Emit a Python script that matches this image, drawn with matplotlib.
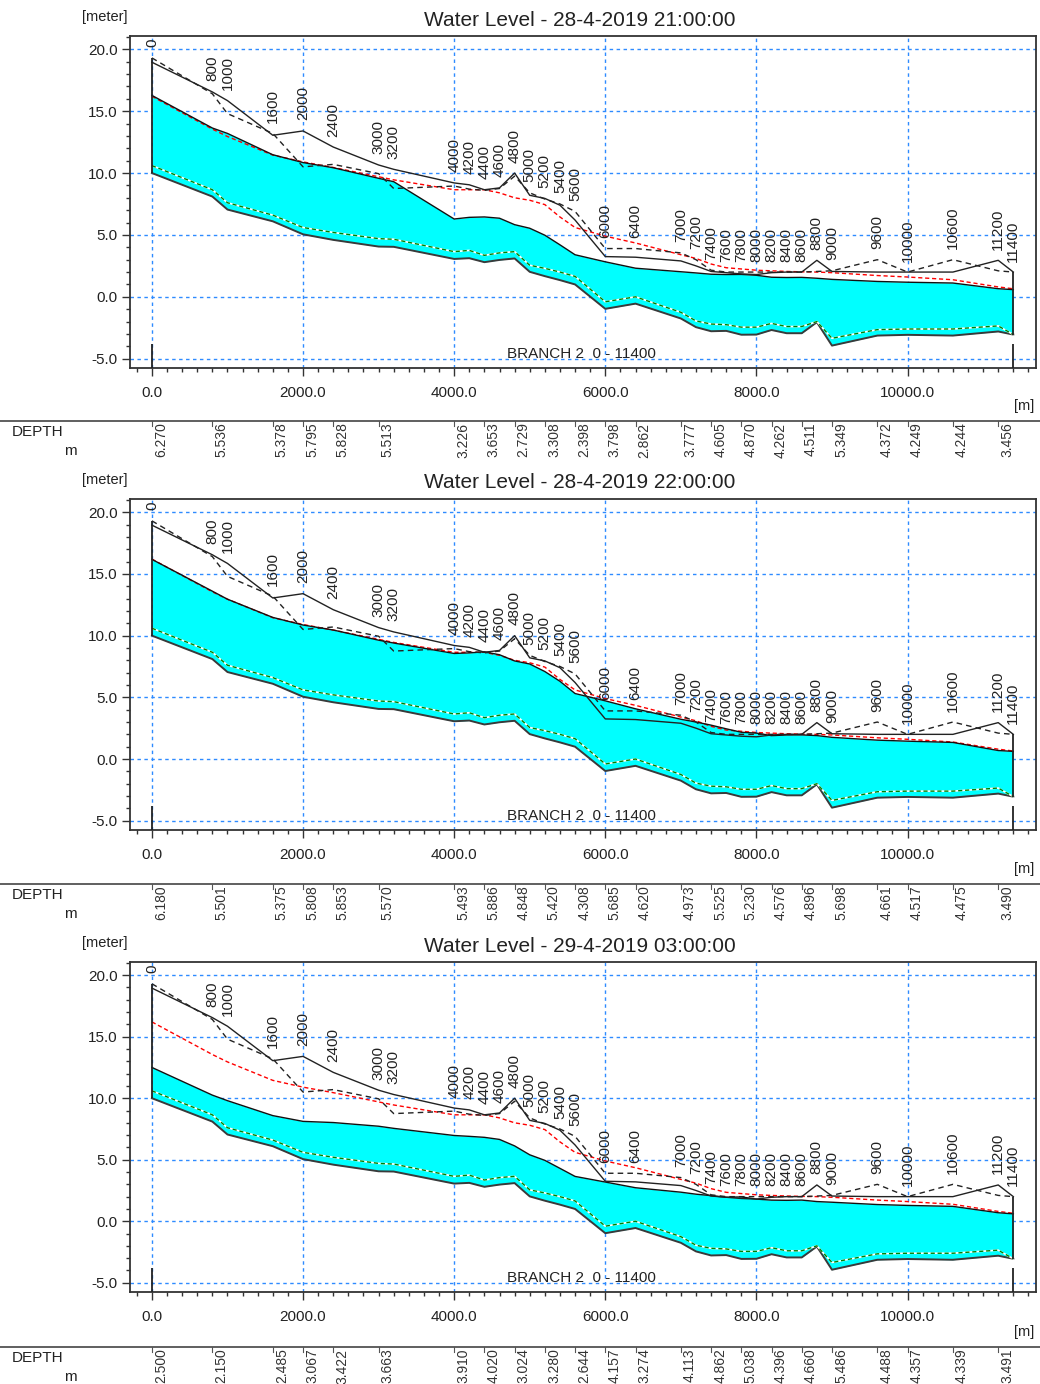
import numpy as np
import matplotlib
matplotlib.use("Agg")
import matplotlib.pyplot as plt
from matplotlib.lines import Line2D
from matplotlib import transforms
from matplotlib.ticker import MultipleLocator, FormatStrFormatter

plt.rcParams['font.family'] = ['Liberation Sans', 'DejaVu Sans']

# ---- Branch geometry (chainage in m, levels in m) ----
chainage = [0, 800, 1000, 1600, 2000, 2400, 3000, 3200, 4000, 4200, 4400, 4600,
            4800, 5000, 5200, 5400, 5600, 6000, 6400, 7000, 7200, 7400, 7600,
            7800, 8000, 8200, 8400, 8600, 8800, 9000, 9600, 10000, 10600,
            11200, 11400]

bed_level = [10.00, 8.10, 7.05, 6.10, 5.05, 4.60, 4.06, 4.04, 3.06, 3.12, 2.80,
             2.98, 3.10, 2.02, 1.67, 1.35, 1.00, -0.97, -0.55, -1.75, -2.45,
             -2.78, -2.75, -3.06, -3.05, -2.68, -2.94, -2.94, -2.05, -3.94,
             -3.13, -3.07, -3.13, -2.80, -3.05]

bed_level_2 = [10.60, 8.65, 7.60, 6.60, 5.60, 5.20, 4.70, 4.65, 3.65, 3.75, 3.35,
               3.55, 3.65, 2.55, 2.30, 2.00, 1.65, -0.40, 0.00, -1.25, -1.95,
               -2.20, -2.25, -2.45, -2.45, -2.15, -2.40, -2.40, -2.00, -3.35,
               -2.65, -2.60, -2.60, -2.35, -3.05]

left_bank = [18.95, 16.55, 15.85, 13.05, 13.40, 12.10, 10.65, 10.30, 9.20, 9.05,
             8.65, 8.80, 10.00, 8.20, 7.95, 7.40, 6.20, 3.25, 3.20, 2.90, 2.50,
             2.05, 1.95, 1.85, 1.80, 1.95, 2.00, 2.00, 2.95, 2.05, 2.00, 2.00,
             2.00, 2.95, 2.00]

right_bank = [19.30, 16.40, 14.80, 13.20, 10.50, 10.70, 9.95, 8.75, 8.95, 8.70,
              8.60, 8.75, 9.75, 8.40, 7.90, 7.50, 6.90, 3.90, 3.90, 3.55, 3.00,
              2.15, 2.00, 2.00, 2.00, 2.00, 2.00, 2.00, 2.05, 2.10, 3.00, 2.00,
              3.00, 2.10, 2.00]

max_water_level = [16.20, 13.55, 12.95, 11.45, 10.90, 10.45, 9.70, 9.45, 8.65,
                   8.65, 8.65, 8.40, 8.00, 7.80, 7.45, 6.45, 5.60, 4.90, 4.35,
                   3.40, 3.10, 2.65, 2.35, 2.25, 2.15, 2.10, 2.05, 2.02, 2.00,
                   1.95, 1.72, 1.60, 1.38, 0.80, 0.65]

# ---- Water levels at the three time steps ----
titles = ["Water Level - 28-4-2019 21:00:00",
          "Water Level - 28-4-2019 22:00:00",
          "Water Level - 29-4-2019 03:00:00"]

wl_2104 = [16.270, 13.636, 13.200, 11.478, 10.845, 10.428, 9.573, 9.300, 6.286,
           6.420, 6.453, 6.350, 5.829, 5.540, 4.978, 4.200, 3.398, 2.828, 2.312,
           2.027, 1.930, 1.825, 1.800, 1.810, 1.740, 1.582, 1.560, 1.571, 1.500,
           1.409, 1.242, 1.179, 1.114, 0.656, 0.580]

wl_2204 = [16.180, 13.601, 12.950, 11.475, 10.858, 10.453, 9.630, 9.400, 8.553,
           8.600, 8.686, 8.450, 7.948, 7.700, 7.090, 6.300, 5.308, 4.715, 4.070,
           3.223, 3.000, 2.745, 2.450, 2.170, 2.100, 1.896, 1.950, 1.956, 1.900,
           1.758, 1.531, 1.447, 1.345, 0.690, 0.620]

wl_0305 = [12.500, 10.250, 9.800, 8.585, 8.117, 8.022, 7.723, 7.550, 6.970,
           6.900, 6.820, 6.650, 6.124, 5.400, 4.950, 4.300, 3.644, 3.187, 2.724,
           2.363, 2.200, 2.082, 1.950, 1.978, 1.800, 1.716, 1.700, 1.720, 1.600,
           1.546, 1.358, 1.287, 1.209, 0.691, 0.600]

# h-points whose depth is printed in the table row
depth_chainages = [0, 800, 1600, 2000, 2400, 3000, 4000, 4400, 4800, 5200, 5600,
                   6000, 6400, 7000, 7400, 7800, 8200, 8600, 9000, 9600, 10000,
                   10600, 11200]

branch_name = "BRANCH 2"

# ---- Figure layout (pixels) ----
W, H = 1040, 1384
fig = plt.figure(figsize=(W / 100, H / 100), dpi=100)
fig.patch.set_facecolor("white")


def fy(px):
    return 1 - px / H


ax_left, ax_right = 130, 1036
panel_tops = [36, 499, 962]
panel_bottoms = [368, 830, 1292]

grid_blue = "#2E8BFF"
text_col = "#222222"
x = np.array(chainage, dtype=float)
bed = np.array(bed_level)

for p, (title, wl) in enumerate(zip(titles, [wl_2104, wl_2204, wl_0305])):
    top, bot = panel_tops[p], panel_bottoms[p]
    dy = top - panel_tops[0]
    ax = fig.add_axes([ax_left / W, fy(bot), (ax_right - ax_left) / W, (bot - top) / H])
    ax.set_xlim(-290, 11700)
    ax.set_ylim(-5.75, 21.07)

    ax.xaxis.set_major_locator(MultipleLocator(2000))
    ax.xaxis.set_minor_locator(MultipleLocator(200))
    ax.yaxis.set_major_locator(MultipleLocator(5))
    ax.yaxis.set_minor_locator(MultipleLocator(1))
    ax.xaxis.set_major_formatter(FormatStrFormatter("%.1f"))
    ax.yaxis.set_major_formatter(FormatStrFormatter("%.1f"))
    ax.tick_params(which="major", direction="out", length=6, width=1, colors="#333333",
                   labelsize=11, labelcolor=text_col)
    ax.tick_params(which="minor", direction="out", length=3, width=1, colors="#333333")
    ax.tick_params(axis="x", which="both", pad=7)
    ax.tick_params(axis="y", which="both", pad=3)
    for s in ax.spines.values():
        s.set_color("#333333")
        s.set_linewidth(1.3)
    ax.grid(True, which="major", color=grid_blue, linestyle=(0, (2.5, 2.5)), lw=1)
    ax.set_axisbelow(True)

    w = np.array(wl)
    # water body between bed and water surface
    ax.fill_between(x, bed, w, color="#00FFFF", lw=0, zorder=2)
    ax.plot(x, w, color="#111111", lw=1.0, zorder=4)
    ax.plot(x, bed, color="#3a3a3a", lw=1.4, zorder=4)
    ax.plot(x, bed_level_2, color="white", lw=1.2, zorder=4)
    ax.plot(x, bed_level_2, color="#008000", lw=1.0, linestyle=(0, (3, 2)), zorder=4)
    ax.plot(x, max_water_level, color="#FF0000", lw=1.0, linestyle=(0, (3, 2)), zorder=3)
    ax.plot(x, left_bank, color="#222222", lw=1.0, zorder=5)
    ax.plot(x, right_bank, color="#222222", lw=1.0, linestyle=(0, (4, 3)), zorder=5)

    # branch end walls and end markers
    ends = [0, -1]
    for i in ends:
        ax.vlines(x[i], bed[i], max(left_bank[i], right_bank[i]), color="#222222", lw=1.3, zorder=5)
        ax.vlines(x[i], -5.75, -3.8, color="#222222", lw=1.3, zorder=5, clip_on=False)

    # chainage labels above the banks
    for c, lb, rb in zip(chainage, left_bank, right_bank):
        ax.text(c, max(lb, rb) + 0.85, str(c), rotation=90, ha="center", va="bottom",
                fontsize=11, color=text_col, zorder=6)

    ax.text(4700, -4.95, f"{branch_name}  {chainage[0]} - {chainage[-1]}",
            fontsize=11, color=text_col, ha="left", va="baseline", zorder=6)

    # header texts
    fig.text(580 / W, fy(20 + dy), title, ha="center", va="center", fontsize=15, color=text_col)
    fig.text(105 / W, fy(17 + dy), "[meter]", ha="center", va="center", fontsize=10.5, color=text_col)
    fig.text(1024 / W, fy(406 + dy), "[m]", ha="center", va="center", fontsize=10.5, color=text_col)

    # depth table row
    line_y = fy(421 + dy)
    fig.add_artist(Line2D([0, 1], [line_y, line_y], transform=fig.transFigure,
                          color="#444444", lw=1.2))
    fig.text(12 / W, fy(432 + dy), "DEPTH", ha="left", va="center", fontsize=11, color=text_col)
    fig.text(64 / W, fy(451 + dy), "m", ha="left", va="center", fontsize=11, color=text_col)

    trans = transforms.blended_transform_factory(ax.transData, fig.transFigure)
    text_trans = transforms.offset_copy(trans, fig=fig, x=1.5, y=0, units="points")
    for c in depth_chainages:
        i = chainage.index(c)
        depth = w[i] - bed[i]
        fig.add_artist(Line2D([c, c], [line_y, fy(426 + dy)], transform=trans,
                              color="#555555", lw=0.8))
        fig.text(c, fy(422.5 + dy), f"{depth:.3f}", transform=text_trans, rotation=90,
                 ha="left", va="top", fontsize=10, color="#333333")

fig.savefig("out.png", dpi=100, facecolor="white")
